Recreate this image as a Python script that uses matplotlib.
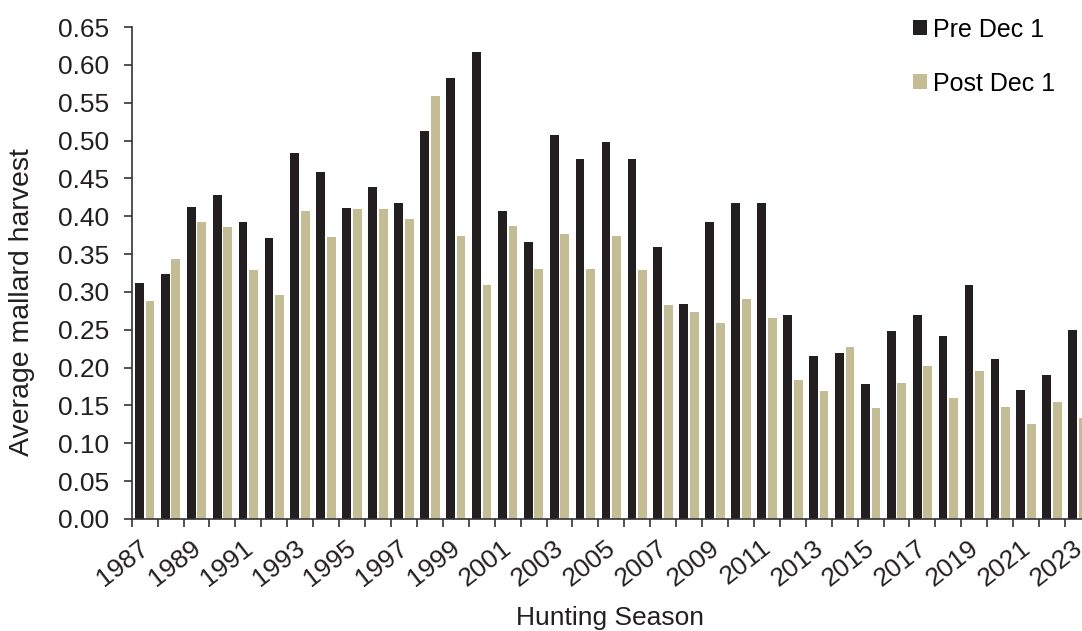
import matplotlib.pyplot as plt
import numpy as np
import matplotlib.ticker as ticker
import matplotlib.transforms as mtransforms

plt.rcParams['font.family'] = ['Liberation Sans', 'DejaVu Sans']

years = list(range(1987, 2024))
preDec1 = [0.312, 0.324, 0.412, 0.428, 0.393, 0.371, 0.483, 0.459, 0.411, 0.438,
           0.417, 0.513, 0.583, 0.617, 0.407, 0.366, 0.507, 0.475, 0.498, 0.475,
           0.359, 0.284, 0.393, 0.417, 0.417, 0.270, 0.216, 0.219, 0.178, 0.249,
           0.270, 0.242, 0.309, 0.212, 0.170, 0.190, 0.250]
postDec1 = [0.288, 0.343, 0.393, 0.386, 0.329, 0.296, 0.407, 0.373, 0.410, 0.410,
            0.397, 0.559, 0.374, 0.309, 0.387, 0.330, 0.377, 0.330, 0.374, 0.329,
            0.283, 0.274, 0.259, 0.290, 0.266, 0.183, 0.169, 0.227, 0.147, 0.180,
            0.202, 0.160, 0.195, 0.148, 0.126, 0.155, 0.134]

darkColor = '#231F20'
tanColor = '#C4BC94'
textColor = '#231F20'

fig = plt.figure(figsize=(10.82, 6.31), dpi=100)
ax = fig.add_axes([0.1217, 0.1775, 0.8866, 0.7797])

x = np.arange(len(years))
barWidth = 0.34
ax.bar(x - 0.205, preDec1, barWidth, color=darkColor, label='Pre Dec 1')
ax.bar(x + 0.205, postDec1, barWidth, color=tanColor, label='Post Dec 1')

ax.set_xlim(-0.5, len(years) - 0.5)
ax.set_ylim(0, 0.65)
ax.yaxis.set_major_locator(ticker.MultipleLocator(0.05))
ax.yaxis.set_major_formatter(ticker.FormatStrFormatter('%.2f'))

# labels at every other year, tick marks between categories
ax.set_xticks(x[::2])
ax.set_xticklabels([str(y) for y in years[::2]], rotation=38, ha='right',
                   rotation_mode='anchor')
ax.set_xticks(np.arange(-0.5, len(years)), minor=True)
ax.tick_params(axis='x', which='major', length=0, pad=12, labelsize=19,
               labelcolor=textColor)
ax.tick_params(axis='x', which='minor', length=6, width=1.2, color='#333333')
ax.tick_params(axis='y', length=6, width=1.2, color='#333333', labelsize=19,
               labelcolor=textColor, pad=10)

shift = mtransforms.ScaledTranslation(-6 / 100, 0, fig.dpi_scale_trans)
for lbl in ax.get_xticklabels():
    lbl.set_transform(lbl.get_transform() + shift)

for s in ['top', 'right']:
    ax.spines[s].set_visible(False)
for s in ['left', 'bottom']:
    ax.spines[s].set_linewidth(1.2)
    ax.spines[s].set_color('#333333')

fig.text(0.0203, 0.521, 'Average mallard harvest', fontsize=20.5, color=textColor,
         rotation=90, ha='center', va='center')
fig.text(0.564, 0.0206, 'Hunting Season', fontsize=19, color=textColor,
         ha='center', va='center')

ax.legend(loc='upper left', bbox_to_anchor=(0.8438, 0.972), bbox_transform=fig.transFigure,
          frameon=False, fontsize=18, handlelength=0.56, handleheight=0.56,
          handletextpad=0.25, labelspacing=1.2, borderpad=0, borderaxespad=0)

fig.savefig('out.png', dpi=100)
